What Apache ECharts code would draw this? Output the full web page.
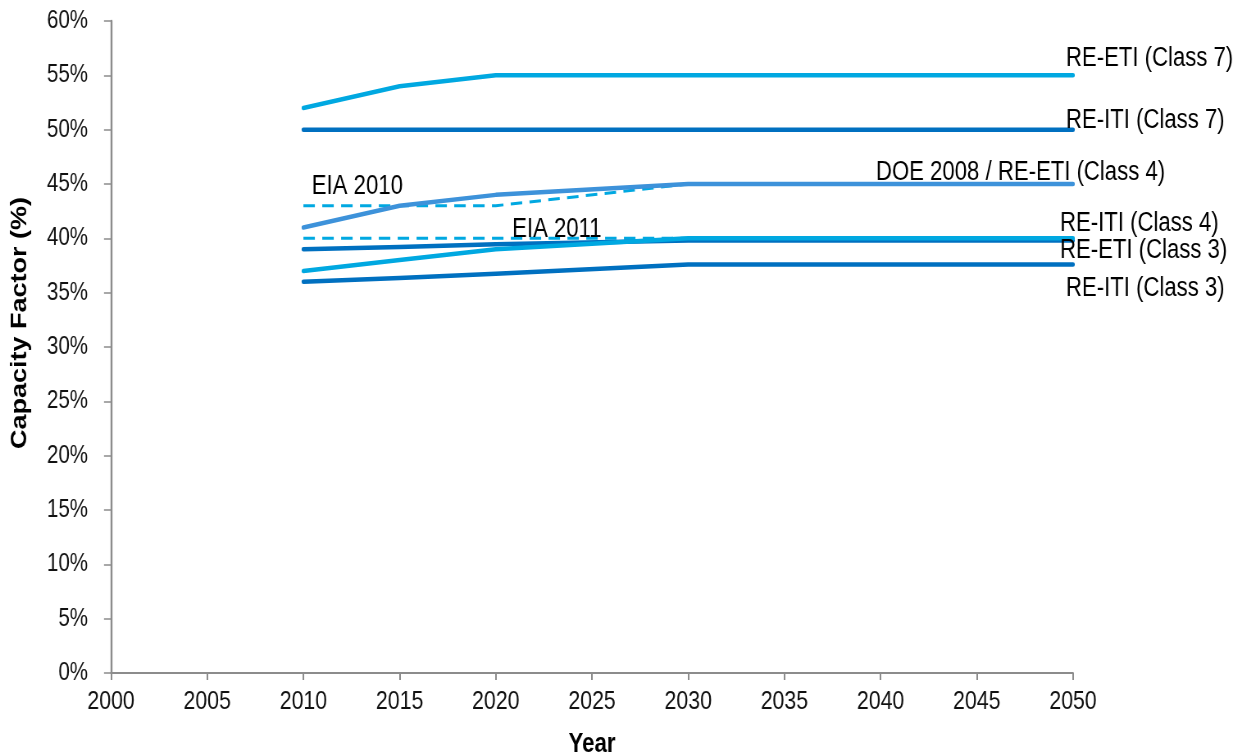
<!DOCTYPE html>
<html>
<head>
<meta charset="utf-8">
<script src="https://cdn.jsdelivr.net/npm/echarts@6/dist/echarts.min.js"></script>
<style>
  html, body { margin: 0; padding: 0; background: #fff; overflow: hidden; }
  #wrap { width: 1242px; height: 756px; overflow: hidden; position: relative; }
  #chart { width: 1515px; height: 756px; transform-origin: 0 0; transform: scaleX(0.819802); position: absolute; left: 0; top: 0; }
</style>
</head>
<body>
<div id="wrap"><div id="chart"></div></div>
<script>
// ---- Data ----
const years = [2010, 2015, 2020, 2030, 2050];
const reEtiClass7 = [52, 54, 55, 55, 55];
const reItiClass7 = [50, 50, 50, 50, 50];
const doeReEtiClass4 = [41, 43, 44, 45, 45];
const reItiClass4 = [39, 39.2, 39.45, 39.8, 39.8];
const reEtiClass3 = [37, 38, 39, 40, 40];
const reItiClass3 = [36, 36.35, 36.75, 37.6, 37.6];

const eiaYears = [2010, 2015, 2020, 2030];
const eia2010 = [43, 43, 43, 45];
const eia2011 = [40, 40, 40, 40];

const xTicks = { min: 2000, max: 2050, step: 5 };
const yTicks = { min: 0, max: 60, step: 5 };

// horizontal compression of the whole drawing (narrow-type look)
const S = 1242 / 1515;
const FONT = "'Liberation Sans', Arial, sans-serif";

const LIGHT = '#00a8e1';
const DARK = '#0070c0';
const MID = '#3d92da';

function pairs(xs, ys) { return xs.map((x, i) => [x, ys[i]]); }
function hx(px) { return px / S; }

function solid(name, ys, color, labelText, off) {
  return {
    name: name,
    type: 'line',
    data: pairs(years, ys),
    showSymbol: false,
    symbol: 'none',
    lineStyle: { color: color, width: 4.5, cap: 'round', join: 'round' },
    itemStyle: { color: color },
    endLabel: {
      show: true,
      formatter: labelText,
      position: 'right',
      distance: 0,
      offset: [hx(off[0]), off[1]],
      fontFamily: FONT,
      fontSize: 27,
      color: '#000'
    },
    z: 3
  };
}

function dashed(name, ys, labelText, coord, off) {
  return {
    name: name,
    type: 'line',
    data: pairs(eiaYears, ys),
    showSymbol: false,
    symbol: 'none',
    lineStyle: { color: LIGHT, width: 3, type: [14, 9] },
    itemStyle: { color: LIGHT },
    markPoint: {
      symbol: 'circle',
      symbolSize: 1,
      itemStyle: { color: 'rgba(0,0,0,0)' },
      label: {
        show: true,
        formatter: labelText,
        position: 'right',
        distance: 0,
        offset: [hx(off[0]), off[1]],
        fontFamily: FONT,
        fontSize: 27,
        color: '#000'
      },
      data: [{ coord: coord }]
    },
    z: 2
  };
}

const chart = echarts.init(document.getElementById('chart'), null, { renderer: 'canvas' });

chart.setOption({
  animation: false,
  backgroundColor: '#fff',
  grid: { left: hx(111), right: hx(169), top: 21, bottom: 83, containLabel: false, outerBoundsMode: 'none' },
  xAxis: {
    type: 'value',
    min: xTicks.min, max: xTicks.max, interval: xTicks.step,
    name: 'Year',
    nameLocation: 'middle',
    nameGap: 58,
    nameTextStyle: { fontFamily: FONT, fontWeight: 'bold', fontSize: 27, color: '#000', verticalAlign: 'top' },
    axisLine: { show: true, lineStyle: { color: '#8c8c8c', width: 2 } },
    axisTick: { show: true, length: 7, lineStyle: { color: '#8c8c8c', width: 2 } },
    splitLine: { show: false },
    axisLabel: { fontFamily: FONT, fontSize: 26, color: '#111', margin: 16, formatter: v => String(v) }
  },
  yAxis: {
    type: 'value',
    min: yTicks.min, max: yTicks.max, interval: yTicks.step,
    axisLine: { show: true, lineStyle: { color: '#8c8c8c', width: 2.4 } },
    axisTick: { show: true, length: hx(7), lineStyle: { color: '#8c8c8c', width: 1.5 } },
    splitLine: { show: false },
    axisLabel: { fontFamily: FONT, fontSize: 25, color: '#111', margin: hx(23), formatter: '{value}%' }
  },
  graphic: [{
    type: 'text',
    x: hx(20), y: 323,
    rotation: Math.PI / 2,
    style: {
      text: 'Capacity Factor (%)',
      fontFamily: FONT,
      fontWeight: 'bold',
      fontSize: 27,
      fill: '#000',
      textAlign: 'center',
      textVerticalAlign: 'middle'
    }
  }],
  series: [
    dashed('EIA 2010', eia2010, 'EIA 2010', [2010, 43], [8, -19]),
    dashed('EIA 2011', eia2011, 'EIA 2011', [2020, 40], [16, -9]),
    solid('RE-ITI (Class 3)', reItiClass3, DARK, 'RE-ITI (Class 3)', [-7, 24]),
    solid('RE-ITI (Class 4)', reItiClass4, DARK, 'RE-ITI (Class 4)', [-13, -17]),
    solid('RE-ETI (Class 3)', reEtiClass3, LIGHT, 'RE-ETI (Class 3)', [-13, 12]),
    solid('DOE 2008 / RE-ETI (Class 4)', doeReEtiClass4, MID, 'DOE 2008 / RE-ETI (Class 4)', [-197, -11]),
    solid('RE-ITI (Class 7)', reItiClass7, DARK, 'RE-ITI (Class 7)', [-7, -9]),
    solid('RE-ETI (Class 7)', reEtiClass7, LIGHT, 'RE-ETI (Class 7)', [-7, -17])
  ]
});
</script>
</body>
</html>
